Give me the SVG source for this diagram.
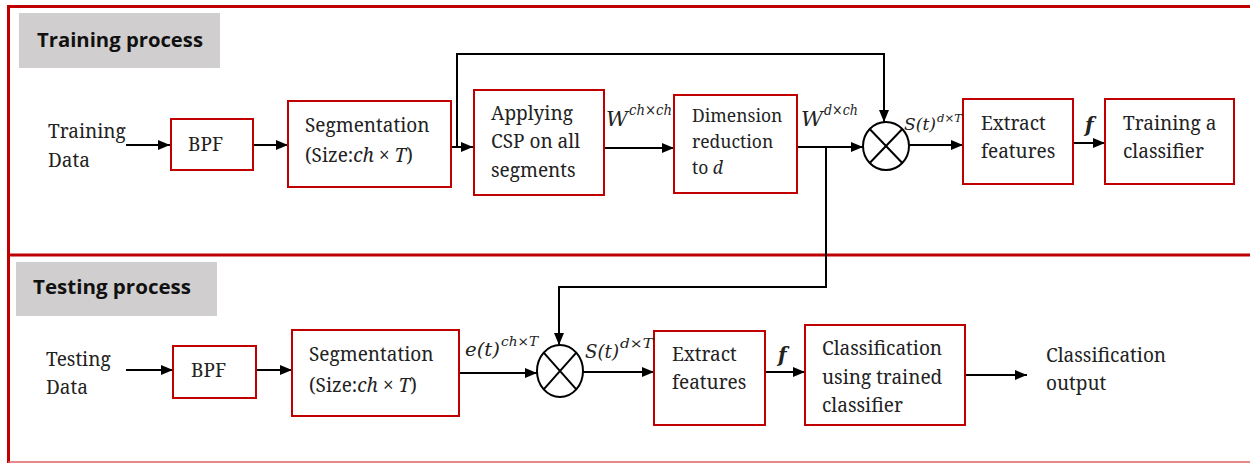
<svg xmlns="http://www.w3.org/2000/svg" width="1250" height="463" viewBox="0 0 1250 463">
  <defs>
    <marker id="arrow" viewBox="0 0 12 10" refX="12" refY="5" markerWidth="12" markerHeight="10" markerUnits="userSpaceOnUse" orient="auto">
      <path d="M0,0 L12,5 L0,10 Z" fill="#000"/>
    </marker>
    <style>
      .frame { stroke: #C00000; stroke-width: 3; fill: none; }
      .box { fill: #fff; stroke: #C00000; stroke-width: 2; }
      .hdr { fill: #D0CECE; }
      .hdrtxt { font-family: "Open Sans", "Liberation Sans", sans-serif; font-weight: bold; font-size: 19px; fill: #111; }
      .t { font-family: "Noto Serif", "DejaVu Serif", serif; font-size: 19px; fill: #222; }
      .ts { font-family: "Noto Serif", "DejaVu Serif", serif; font-size: 17.5px; fill: #222; }
      .m { font-family: "DejaVu Serif", "Noto Serif", serif; font-style: italic; fill: #222; }
      .wire { stroke: #000; stroke-width: 2; fill: none; }
      .mix { fill: #fff; stroke: #000; stroke-width: 2; }
    </style>
  </defs>

  <!-- section frames -->
  <g id="frames">
    <line class="frame" x1="8" y1="6.5" x2="1250" y2="6.5"/>
    <line class="frame" x1="8.5" y1="5" x2="8.5" y2="463"/>
    <line class="frame" x1="8" y1="255" x2="1250" y2="255"/>
    <line x1="8" y1="462" x2="1250" y2="462" stroke="#E06060" stroke-width="1.5"/>
  </g>

  <!-- section headers -->
  <g id="hdr-training">
    <rect class="hdr" x="19" y="13" width="201" height="55"/>
    <text class="hdrtxt" x="37" y="47" textLength="166" lengthAdjust="spacingAndGlyphs">Training process</text>
  </g>
  <g id="hdr-testing">
    <rect class="hdr" x="16" y="262" width="201" height="54"/>
    <text class="hdrtxt" x="33" y="294" textLength="158" lengthAdjust="spacingAndGlyphs">Testing process</text>
  </g>

  <!-- connectors -->
  <g id="connectors">
    <!-- training chain -->
    <line class="wire" x1="126" y1="145" x2="170" y2="145" marker-end="url(#arrow)"/>
    <line class="wire" x1="253" y1="145" x2="288" y2="145" marker-end="url(#arrow)"/>
    <line class="wire" x1="451" y1="147" x2="473" y2="147" marker-end="url(#arrow)"/>
    <polyline class="wire" points="457,147 457,54 884,54 884,122" marker-end="url(#arrow)"/>
    <line class="wire" x1="604" y1="148" x2="674" y2="148" marker-end="url(#arrow)"/>
    <line class="wire" x1="797" y1="147" x2="863" y2="147" marker-end="url(#arrow)"/>
    <line class="wire" x1="909" y1="145" x2="963" y2="145" marker-end="url(#arrow)"/>
    <line class="wire" x1="1073" y1="143" x2="1105" y2="143" marker-end="url(#arrow)"/>
    <!-- reduced projection handed to the testing chain -->
    <polyline class="wire" points="826,147 826,287 559,287 559,345" marker-end="url(#arrow)"/>
    <!-- testing chain -->
    <line class="wire" x1="126" y1="370" x2="173" y2="370" marker-end="url(#arrow)"/>
    <line class="wire" x1="256" y1="370" x2="292" y2="370" marker-end="url(#arrow)"/>
    <line class="wire" x1="459" y1="373" x2="537" y2="373" marker-end="url(#arrow)"/>
    <line class="wire" x1="583" y1="372" x2="654" y2="372" marker-end="url(#arrow)"/>
    <line class="wire" x1="765" y1="372" x2="805" y2="372" marker-end="url(#arrow)"/>
    <line class="wire" x1="965" y1="375" x2="1027" y2="375" marker-end="url(#arrow)"/>
  </g>

  <!-- training nodes -->
  <g id="train-input">
    <text class="t" x="48" y="138">Training</text>
    <text class="t" x="48" y="167">Data</text>
  </g>
  <g id="train-bpf">
    <rect class="box" x="171" y="119" width="82" height="51"/>
    <text class="t" x="188" y="151">BPF</text>
  </g>
  <g id="train-seg">
    <rect class="box" x="288" y="101" width="163" height="86"/>
    <text class="t" x="305" y="132">Segmentation</text>
    <text class="t" x="305" y="162">(Size:<tspan font-style="italic">ch</tspan> × <tspan font-style="italic">T</tspan>)</text>
  </g>
  <g id="train-csp">
    <rect class="box" x="474" y="90" width="130" height="105"/>
    <text class="t" x="491" y="120">Applying</text>
    <text class="t" x="491" y="148">CSP on all</text>
    <text class="t" x="491" y="177">segments</text>
  </g>
  <g id="train-dim">
    <rect class="box" x="674" y="95" width="123" height="98"/>
    <text class="ts" x="692" y="122">Dimension</text>
    <text class="ts" x="692" y="148">reduction</text>
    <text class="ts" x="692" y="174">to <tspan font-style="italic">d</tspan></text>
  </g>
  <g id="train-mix">
    <ellipse class="mix" cx="886" cy="146" rx="23" ry="24"/>
    <path class="wire" d="M869.7,129 L902.3,163 M902.3,129 L869.7,163"/>
  </g>
  <g id="train-extract">
    <rect class="box" x="963" y="99" width="110" height="85"/>
    <text class="t" x="981" y="130">Extract</text>
    <text class="t" x="981" y="158">features</text>
  </g>
  <g id="train-classifier">
    <rect class="box" x="1105" y="99" width="129" height="85"/>
    <text class="t" x="1123" y="130">Training a</text>
    <text class="t" x="1123" y="158">classifier</text>
  </g>

  <!-- training edge labels -->
  <g id="train-labels">
    <text class="m" x="606" y="126" font-size="20" textLength="22" lengthAdjust="spacingAndGlyphs">W</text>
    <text class="m" x="629" y="115" font-size="14" textLength="43" lengthAdjust="spacingAndGlyphs">ch×ch</text>
    <text class="m" x="801" y="126" font-size="20" textLength="22" lengthAdjust="spacingAndGlyphs">W</text>
    <text class="m" x="824" y="115" font-size="14" textLength="34" lengthAdjust="spacingAndGlyphs">d×ch</text>
    <text class="m" x="904" y="130" font-size="17" textLength="32" lengthAdjust="spacingAndGlyphs">S(t)</text>
    <text class="m" x="937" y="122" font-size="11" textLength="25" lengthAdjust="spacingAndGlyphs">d×T</text>
    <text class="m" x="1085" y="132" font-size="20" font-weight="bold">f</text>
  </g>

  <!-- testing nodes -->
  <g id="test-input">
    <text class="t" x="46" y="366">Testing</text>
    <text class="t" x="46" y="394">Data</text>
  </g>
  <g id="test-bpf">
    <rect class="box" x="173" y="346" width="83" height="52"/>
    <text class="t" x="191" y="377">BPF</text>
  </g>
  <g id="test-seg">
    <rect class="box" x="292" y="330" width="167" height="86"/>
    <text class="t" x="309" y="361">Segmentation</text>
    <text class="t" x="309" y="392">(Size:<tspan font-style="italic">ch</tspan> × <tspan font-style="italic">T</tspan>)</text>
  </g>
  <g id="test-mix">
    <ellipse class="mix" cx="560" cy="371" rx="23" ry="26"/>
    <path class="wire" d="M543.7,352.6 L576.3,389.4 M576.3,352.6 L543.7,389.4"/>
  </g>
  <g id="test-extract">
    <rect class="box" x="654" y="331" width="111" height="94"/>
    <text class="t" x="672" y="361">Extract</text>
    <text class="t" x="672" y="389">features</text>
  </g>
  <g id="test-classify">
    <rect class="box" x="805" y="325" width="160" height="100"/>
    <text class="t" x="822" y="355">Classification</text>
    <text class="t" x="822" y="384">using trained</text>
    <text class="t" x="822" y="412">classifier</text>
  </g>
  <g id="test-output">
    <text class="t" x="1046" y="362">Classification</text>
    <text class="t" x="1046" y="390">output</text>
  </g>

  <!-- testing edge labels -->
  <g id="test-labels">
    <text class="m" x="465" y="356" font-size="18" textLength="35" lengthAdjust="spacingAndGlyphs">e(t)</text>
    <text class="m" x="501" y="346" font-size="13" textLength="37" lengthAdjust="spacingAndGlyphs">ch×T</text>
    <text class="m" x="585" y="358" font-size="18" textLength="34" lengthAdjust="spacingAndGlyphs">S(t)</text>
    <text class="m" x="620" y="348" font-size="13" textLength="33" lengthAdjust="spacingAndGlyphs">d×T</text>
    <text class="m" x="778" y="362" font-size="20" font-weight="bold">f</text>
  </g>
</svg>
